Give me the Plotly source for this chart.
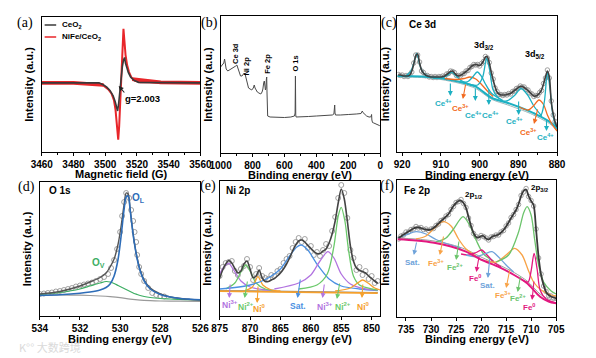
import plotly.graph_objects as go

W, H = 596, 358
FONT = "Liberation Sans, Arial, sans-serif"

# ---------------- (a) EPR ----------------
epr_field_nife = [3460, 3495, 3498, 3500, 3502, 3504, 3505.5, 3506.5, 3507.4, 3508.2, 3508.8, 3509.4,
                  3510, 3510.6, 3511.1, 3511.5, 3512.1, 3512.8, 3513.8, 3515, 3516.5, 3518.5, 3522, 3560]
epr_nife = [0, 0, -0.03, -0.07, -0.12, -0.2, -0.32, -0.5, -0.8, -1.05, -0.8, -0.4,
            0.05, 0.5, 0.85, 1.0, 0.78, 0.52, 0.33, 0.2, 0.1, 0.04, 0.01, 0]
# flat noisy baseline stretches of the NiFe/CeO2 spectrum (drawn as a broad band)
epr_noise_left_field = [3460, 3480, 3499]
epr_noise_left = [0, 0, -0.04]
epr_noise_right_field = [3517, 3535, 3560]
epr_noise_right = [0.07, 0.01, 0]
epr_field_ceo2 = [3460, 3496, 3499, 3501, 3503, 3505, 3506.3, 3507.2, 3507.8, 3508.4, 3509.2, 3510,
                  3510.8, 3511.6, 3512.2, 3512.8, 3513.6, 3514.6, 3516, 3518, 3521, 3560]
epr_ceo2 = [0, 0, -0.04, -0.08, -0.14, -0.24, -0.35, -0.46, -0.52, -0.4, -0.15, 0.08,
            0.3, 0.43, 0.47, 0.36, 0.27, 0.19, 0.11, 0.05, 0.01, 0]

# ---------------- (b) survey ----------------
survey_be = [1000, 990, 980, 975, 970, 965, 955, 945, 930, 918, 905, 898, 893, 885, 875, 866, 858, 852, 845,
             838, 830, 825, 815, 805, 795, 789, 784, 778, 770, 760, 748, 740, 735, 730, 726, 722, 719, 716,
             713, 711, 709, 707, 705, 690, 650, 600, 560, 545, 537, 533, 531, 529, 527, 500, 450, 400, 350,
             300, 290, 286, 285, 283, 280, 250, 220, 210, 200, 150, 120, 115, 112, 108, 100, 95, 85, 70, 60,
             56, 54, 52, 48, 40, 30, 20, 12, 5, 0]
survey_int = [86, 88, 90, 94, 86, 84, 82, 83, 84, 85, 87, 88, 86, 81, 77, 77, 79, 80, 78,
              74, 68, 65, 64, 63, 65, 68, 65, 63, 61, 60, 59, 61, 64, 70, 72, 67, 63, 65,
              74, 76, 60, 42, 37, 36, 35.5, 35.5, 36, 36.5, 37, 40, 77, 38, 36, 36, 36.5, 37, 37.5,
              38, 39, 44, 48, 40, 38, 38, 38.5, 39, 38.5, 39, 39.5, 41, 42, 40.5, 39.5, 38, 37, 36, 36,
              37, 38.5, 33, 30.5, 30, 29.5, 29, 28.5, 27.5, 27]
survey_labels = ["Ce 3d", "Ni 2p", "Fe 2p", "O 1s"]

# ---------------- (c) Ce 3d ----------------
c_be = [921, 920.5, 920, 919.5, 919, 918.5, 918, 917.5, 917, 916.5, 916, 915.5, 915, 914.5, 914, 913.5,
        913, 912.5, 912, 911.5, 911, 910.5, 910, 909.5, 909, 908.5, 908, 907.5, 907, 906.5, 906, 905.5,
        905, 904.5, 904, 903.5, 903, 902.5, 902, 901.5, 901, 900.5, 900, 899.5, 899, 898.5, 898, 897.5,
        897, 896.5, 896, 895.5, 895, 894.5, 894, 893.5, 893, 892.5, 892, 891.5, 891, 890.5, 890, 889.5,
        889, 888.5, 888, 887.5, 887, 886.5, 886, 885.5, 885, 884.5, 884, 883.5, 883, 882.5, 882, 881.5,
        881, 880.5, 880]
c_fit = [77, 77, 76.5, 76, 76, 76, 77, 81, 88, 96, 98, 89, 82, 79, 77, 76, 75.5, 75, 75, 75,
         75, 75, 75, 75.5, 76, 77.5, 79, 80.5, 81, 79, 77, 76, 76.5, 77.5, 79, 80.5, 82, 84, 86, 87,
         87.5, 87, 86.5, 88, 91, 95, 95, 89, 80, 72, 65, 60, 58, 57, 57, 57, 57.5, 58, 58.5, 60,
         61.5, 63, 64.5, 65.5, 65.5, 64.5, 63, 61.5, 59.5, 57.5, 56, 56, 57, 59, 62, 68, 75, 81, 75, 50,
         38, 30, 25]
c_raw = [77.5, 76.5, 77, 75.5, 76.5, 75.5, 77.5, 80, 89, 97, 97, 90, 81, 79.5, 76.5, 76.5, 75, 75.5, 74.5, 75.5,
         74.5, 75.5, 75, 76, 75.5, 78, 78.5, 81, 80.5, 79.5, 76.5, 76.5, 76, 78, 78.5, 81, 81.5, 84.5, 85.5, 87.5,
         87, 87.5, 86, 88.5, 90.5, 95.5, 94, 89.5, 79, 73, 64, 60.5, 57.5, 57.5, 56.5, 57.5, 57, 58.5, 58, 60.5,
         61, 63.5, 64, 66, 65, 65, 62.5, 62, 59, 58, 55.5, 56.5, 56.5, 59.5, 61.5, 68.5, 74, 82, 74, 51,
         37, 30.5, 24.5]
c_bg_be = [921.2, 915, 910, 905, 901, 896.8, 892.7, 886.9, 882, 880]
c_bg = [76, 75.5, 73.7, 70, 65.3, 54, 49, 40.3, 30.3, 24]
c_bg2 = [75, 74.5, 72.5, 68.5, 63.5, 52.5, 47, 38.5, 28.5, 22.5]
ce4_1_be = [921.2, 919, 917.8, 917, 916.2, 915.4, 914.5, 913, 911]
ce4_1 = [76, 76.5, 80.5, 88.5, 98.5, 86.5, 79, 75.5, 74]
ce4_2_be = [912, 909.5, 908.2, 907.2, 906.2, 904.8, 903]
ce4_2 = [74, 74.5, 77, 80, 76.5, 71.5, 68.5]
ce3_1_be = [909, 906, 904, 902.5, 901, 899.5, 898, 896.5]
ce3_1 = [73.5, 72.5, 73.5, 75, 73, 67.5, 61, 55.5]
ce4_3_be = [905, 903, 901.8, 900.6, 899.5, 898.5, 897, 895]
ce4_3 = [70, 70.5, 75, 80, 75.5, 68, 59, 53.5]
ce4_4_be = [903, 900.5, 899.2, 898.2, 897.4, 896.6, 895.5, 894]
ce4_4 = [68, 67, 75, 93.5, 82, 63, 55.5, 51.5]
ce4_5_be = [896, 893, 891, 889.3, 887.6, 886, 884]
ce4_5 = [53, 51, 56.5, 63.5, 57, 46, 36]
ce3_2_be = [890, 887.5, 886, 884.7, 883.5, 882.5, 881.2, 880]
ce3_2 = [45.5, 42, 46.5, 52, 47.5, 37, 27, 21]
ce4_6_be = [886, 884.3, 883.3, 882.5, 881.8, 881.2, 880.5, 880]
ce4_6 = [39, 36, 50, 80, 62, 40, 28, 23]

# ---------------- (d) O 1s ----------------
o_raw_be = [534.0, 533.8, 533.6, 533.4, 533.2, 533.0, 532.8, 532.6, 532.4, 532.2, 532.0, 531.8, 531.6,
            531.4, 531.2, 531.0, 530.8, 530.6, 530.45, 530.3, 530.15, 530.0, 529.9, 529.8, 529.7, 529.55,
            529.45, 529.35, 529.28, 529.2, 529.15, 529.05, 528.95, 528.8, 528.6, 528.4, 528.2, 528.0, 527.8]
o_raw = [22, 22.5, 23, 23.5, 24.5, 25, 26, 27, 28, 29.5, 30.5, 31.5, 32.5,
         33.5, 35, 37, 39, 42, 48, 56, 67, 84, 100, 114, 123, 118,
         106, 95, 84, 74, 61, 49, 42, 35, 28, 23, 21, 20, 19.5]
o_fit_be = [534, 533, 532, 531.5, 531, 530.7, 530.5, 530.3, 530.1, 529.95, 529.8, 529.7, 529.6,
            529.5, 529.4, 529.3, 529.15, 529.0, 528.8, 528.5, 528.0, 527.5, 527.0, 526.5, 526]
o_fit = [22, 24.5, 30, 34, 38.5, 43, 49, 57, 72, 90, 112, 123, 122,
         107, 90, 75, 58, 46, 36, 28, 22, 19, 17.5, 16.5, 16]
o_lattice = [20.5, 21.3, 22.8, 24, 26, 28.5, 32, 40, 57, 80, 107, 119, 120,
             106, 89, 74, 57, 45, 35, 27, 21.5, 19, 17.5, 16.8, 16.3]
o_vacancy = [21.5, 23.5, 27, 30, 33, 34.5, 34, 32.5, 30.5, 29, 27.5, 26.5, 25.5,
             24.5, 23.5, 22.5, 21.5, 20.5, 19.5, 18.5, 17.5, 17, 16.5, 16.3, 16]
o_bg_be = [534, 533, 532, 531.5, 531, 530.5, 530, 529.5, 529, 528.5, 528, 527, 526]
o_bg = [21, 21, 20.8, 20.5, 20, 19.3, 18.3, 16.8, 15.8, 15.3, 15, 14.8, 14.7]

# ---------------- (e) Ni 2p ----------------
e_be = [875, 874.5, 874, 873.5, 873, 872.5, 872, 871.5, 871, 870.5, 870, 869.5, 869, 868.5, 868, 867.5,
        867, 866.5, 866, 865.5, 865, 864.5, 864, 863.5, 863, 862.5, 862, 861.5, 861, 860.5, 860, 859.5,
        859, 858.5, 858, 857.5, 857, 856.5, 856, 855.5, 855, 854.5, 854, 853.5, 853, 852.5, 852, 851.5,
        851, 850.5, 850, 849.5, 849]
e_fit = [37.7, 46, 52, 55.5, 53, 47.5, 43, 45, 52, 55, 47, 38.5, 40, 46, 38, 34.5,
         34.5, 36, 37.5, 40, 43, 47, 52, 58, 65, 71, 75, 76, 74, 70.5, 67.5, 64.5,
         62.5, 62.5, 65, 67, 73, 82, 95, 113, 127, 117, 95, 70, 55, 48, 45.5, 44.5,
         43, 40, 37.5, 35, 32.7]
e_raw = [40, 49, 53, 54, 55, 45, 41, 47, 50, 57, 49, 36, 42, 48, 40, 38,
         37, 41, 40, 45, 47, 53, 57, 60, 68, 74, 78, 74, 77, 68, 70, 61,
         64, 60, 66, 72, 70, 85, 99, 118, 131, 123, 98, 66, 58, 46, 49, 41,
         45, 37, 40, 33, 35]
e_bg_be = [875, 849]
e_bg_gray = [25.5, 23.5]
e_bg_orange = [24.8, 22.8]
ni3_a_be = [875, 874.3, 873.5, 872.7, 871.5, 870, 868, 866]
ni3_a = [42, 49, 52.7, 46, 35, 29, 26.5, 25.5]
ni2_a_be = [874, 872.5, 871.5, 870.7, 869.9, 869, 867.5, 866]
ni2_a = [27, 33, 44, 51, 44, 33, 27, 25.5]
ni0_a_be = [871, 869.6, 868.7, 867.9, 866.5, 865]
ni0_a = [25, 29, 39.3, 31, 26, 25]
sat_e_be = [875, 870, 867, 865, 863.5, 862.3, 861.6, 860.5, 859, 857, 855, 852, 849]
sat_e = [27, 31, 38, 47, 60, 69, 71, 66, 52, 37, 30, 27, 25.5]
ni3_b_be = [866, 862, 860, 858.5, 857.2, 856.2, 855, 853.5, 851, 849]
ni3_b = [27, 33, 41, 55, 64.3, 58, 42, 32, 27, 26]
ni2_b_be = [862, 859, 857.3, 856.2, 855.5, 855, 854.4, 853.8, 853, 852, 850, 849]
ni2_b = [27, 31, 42, 70, 100, 108.7, 95, 66, 40, 31, 27, 26]
ni0_b_be = [856, 853.5, 852.3, 851.5, 850.6, 849.5, 848.6]
ni0_b = [25, 28, 33, 36, 33, 28, 26]

# ---------------- (f) Fe 2p ----------------
f_be = [736.5, 736, 735.5, 735, 734.5, 734, 733.5, 733, 732.5, 732, 731.5, 731, 730.5, 730, 729.5, 729,
        728.5, 728, 727.5, 727, 726.5, 726, 725.5, 725, 724.5, 724, 723.5, 723, 722.5, 722, 721.5, 721,
        720.5, 720, 719.5, 719, 718.5, 718, 717.5, 717, 716.5, 716, 715.5, 715, 714.5, 714, 713.5, 713,
        712.5, 712, 711.5, 711, 710.5, 710, 709.5, 709, 708.5, 708, 707.5, 707, 706.5, 706, 705.5, 705]
f_fit = [79, 80.5, 82.5, 84, 85.5, 87, 88.5, 89.5, 89.5, 89, 88, 87.5, 87, 87.5, 89, 91,
         93.5, 96, 98, 100.5, 103, 107, 111, 114, 116, 116.5, 114, 109, 100, 91, 84, 80,
         79.5, 81, 81, 78.5, 77.5, 79.5, 81, 81.5, 82.5, 84.5, 87, 90.5, 94.5, 99, 103, 107,
         113, 121, 126, 127.5, 121, 116, 112, 87, 60, 42, 32, 25, 22, 20.5, 19.5, 18.7]
f_raw = [78, 81, 82, 85, 85, 87.5, 88, 90.5, 89, 89.5, 87.5, 88, 86.5, 88, 88.5, 91.5,
         93, 96.5, 97.5, 101, 102.5, 107.5, 110.5, 114.5, 115.5, 117.5, 113.5, 109.5, 99, 91.5, 83.5, 80.5,
         79, 81.5, 80.5, 79, 77, 80, 80.5, 82, 82, 85, 86.5, 91, 94, 99.5, 102.5, 107.5,
         112.5, 121.5, 125, 128.5, 120.5, 116.5, 111, 88, 59, 43, 31, 25.5, 21.5, 21, 19, 19]
f_bg_be = [736.7, 733, 729.4, 726, 723, 719.8, 716.6, 713.4, 710.8, 708.2, 706.5, 705]
f_bg = [77.7, 76.5, 74.3, 70.5, 65.3, 57, 50.3, 42, 33.7, 20.3, 15.5, 13.7]
f_bg2 = [79, 78, 76, 72.5, 67.5, 59.5, 52.5, 44.5, 36, 23, 18, 16.5]
sat_f1_be = [736.7, 735, 733, 731, 729, 727, 724]
sat_f1 = [79, 82, 85.3, 83, 77.5, 73.5, 69]
fe3_a_be = [733, 731, 729.5, 727.6, 726, 724.5, 723, 721]
fe3_a = [78, 81, 88, 95.3, 91, 78, 68, 61]
fe2_a_be = [729, 727, 725.5, 723.6, 722.3, 721, 719.5, 717.5]
fe2_a = [75, 79, 88, 100.3, 92, 77, 63, 56]
fe0_a_be = [724, 722.5, 721, 719.9, 718.8, 717.5, 716]
fe0_a = [63, 62, 64.5, 67, 62, 55, 50]
sat_f2_be = [723, 721, 719.3, 717.8, 716.5, 715, 713.5]
sat_f2 = [62, 60.5, 63, 65.3, 60, 52, 45]
fe3_b_be = [719, 717, 715, 713.3, 711.8, 710.5, 709.5, 708, 706, 705]
fe3_b = [56, 55, 62, 68.7, 62, 46, 35, 27, 22, 21]
fe2_b_be = [717, 714.5, 712.5, 711.5, 710.8, 710, 709.3, 708.5, 707.5, 706, 705]
fe2_b = [55, 62, 85, 104, 110.3, 102, 78, 52, 35, 26, 23]
fe0_b_be = [712, 710.6, 710, 709.4, 708.8, 708.2, 707, 705]
fe0_b = [38, 35, 46, 63.7, 48, 27, 18, 14]

# ---------------- colours ----------------
CYAN = "#1DB0C2"
ORANGE_C = "#F26B21"
BLUE_D = "#2E6DB8"
GREEN_D = "#3DAE63"
PURPLE_E = "#B274E0"
GREEN_E = "#6BC96B"
ORANGE_E = "#F5A02C"
BLUE_E = "#4A90E2"
BLUE_F = "#6FA3DA"
ORANGE_F = "#F8A347"
GREEN_F = "#6CC46C"
MAGENTA_F = "#E2187F"
FIT = "#3f3f3f"
RAW = "#8a8a8a"
RED = "#E8262A"

fig = go.Figure()


def line(x, y, ax, color, width=1.3, shape="spline"):
    fig.add_trace(go.Scatter(x=x, y=y, mode="lines", xaxis="x" + ax, yaxis="y" + ax,
                             line=dict(color=color, width=width, shape=shape, smoothing=0.8),
                             showlegend=False, hoverinfo="skip"))


def circles(x, y, ax, size=4.5):
    fig.add_trace(go.Scatter(x=x, y=y, mode="markers", xaxis="x" + ax, yaxis="y" + ax,
                             marker=dict(symbol="circle-open", size=size, color=RAW, line=dict(width=0.8)),
                             showlegend=False, hoverinfo="skip"))


# (a)
line(epr_noise_left_field, epr_noise_left, "", RED, 3.6, "linear")
line(epr_noise_right_field, epr_noise_right, "", RED, 3.6, "linear")
line(epr_field_nife, epr_nife, "", RED, 2.0, "linear")
line(epr_field_ceo2, epr_ceo2, "", "#3a3a3a", 1.6, "linear")
# (b)
line(survey_be, survey_int, "2", "#4a4a4a", 1.0, "linear")
# (c)
circles(c_be, c_raw, "3", 4.5)
line(c_bg_be, c_bg2, "3", "#9fb8bb", 1.0)
line(c_bg_be, c_bg, "3", CYAN, 2.0)
for xb, yb, col in [(ce4_1_be, ce4_1, CYAN), (ce4_2_be, ce4_2, CYAN), (ce3_1_be, ce3_1, ORANGE_C),
                    (ce4_3_be, ce4_3, CYAN), (ce4_4_be, ce4_4, CYAN), (ce4_5_be, ce4_5, CYAN),
                    (ce3_2_be, ce3_2, ORANGE_C), (ce4_6_be, ce4_6, CYAN)]:
    line(xb, yb, "3", col, 1.3)
line(c_be, c_fit, "3", FIT, 1.6)
# (d)
circles(o_raw_be, o_raw, "4", 5)
line(o_bg_be, o_bg, "4", "#9a9a9a", 1.2)
line(o_fit_be, o_vacancy, "4", GREEN_D, 1.2)
line(o_fit_be, o_fit, "4", "#555555", 1.4)
line(o_fit_be, o_lattice, "4", BLUE_D, 1.6)
# (e)
circles(e_be, e_raw, "5", 5)
line(e_bg_be, e_bg_gray, "5", "#8c8c8c", 1.2, "linear")
line(e_bg_be, e_bg_orange, "5", ORANGE_E, 1.8, "linear")
for xb, yb, col in [(ni3_a_be, ni3_a, PURPLE_E), (ni2_a_be, ni2_a, GREEN_E), (ni0_a_be, ni0_a, ORANGE_E),
                    (sat_e_be, sat_e, BLUE_E), (ni3_b_be, ni3_b, PURPLE_E), (ni2_b_be, ni2_b, GREEN_E),
                    (ni0_b_be, ni0_b, ORANGE_E)]:
    line(xb, yb, "5", col, 1.3)
line(e_be, e_fit, "5", "#444444", 1.6)
# (f)
circles(f_be, f_raw, "6", 4.5)
line(f_bg_be, f_bg2, "6", "#a0a0a0", 1.0)
for xb, yb, col in [(sat_f1_be, sat_f1, BLUE_F), (fe3_a_be, fe3_a, ORANGE_F), (fe2_a_be, fe2_a, GREEN_F),
                    (fe0_a_be, fe0_a, MAGENTA_F), (sat_f2_be, sat_f2, BLUE_F), (fe3_b_be, fe3_b, ORANGE_F),
                    (fe2_b_be, fe2_b, GREEN_F), (fe0_b_be, fe0_b, MAGENTA_F)]:
    line(xb, yb, "6", col, 1.3)
line(f_bg_be, f_bg, "6", MAGENTA_F, 2.0)
line(f_be, f_fit, "6", "#3a3a3a", 1.8)

# ---------------- axes ----------------
panels = {
    "": dict(x=(32, 197), y=(17, 152), xr=[3460, 3560], yr=[-1.28, 1.22], dt=20, mdt=10, title="Magnetic field (G)", ty=174),
    "2": dict(x=(218, 384), y=(16, 153), xr=[1000, 0], yr=[0, 137], dt=200, mdt=100, title="Binding energy (eV)", ty=175),
    "3": dict(x=(402, 568), y=(16, 152), xr=[921.2, 880], yr=[0, 136], dt=10, mdt=5, title="Binding energy (eV)", ty=175),
    "4": dict(x=(30, 197), y=(182, 316), xr=[534, 526], yr=[0, 134], dt=2, mdt=1, title="Binding energy (eV)", ty=339),
    "5": dict(x=(217, 384), y=(181, 316), xr=[875, 848.6], yr=[0, 135], dt=5, mdt=None, title="Binding energy (eV)", ty=339),
    "6": dict(x=(402, 567), y=(180, 317), xr=[736.7, 705], yr=[0, 137], dt=5, mdt=None, title="Binding energy (eV)", ty=339),
}
lay = {}
for k, p in panels.items():
    xa = dict(domain=[p["x"][0] / W, p["x"][1] / W], range=p["xr"], dtick=p["dt"], anchor="y" + k,
              showline=True, mirror=True, linecolor="black", linewidth=1.2, ticks="outside", ticklen=3,
              tickwidth=1.1, tickcolor="black", showgrid=False, zeroline=False,
              tickfont=dict(family=FONT, size=10, color="black", weight="bold"))
    if p["mdt"]:
        xa["minor"] = dict(dtick=p["mdt"], ticks="outside", ticklen=2, tickcolor="black", showgrid=False)
    ya = dict(domain=[1 - p["y"][1] / H, 1 - p["y"][0] / H], range=p["yr"], anchor="x" + k,
              showline=True, mirror=True, linecolor="black", linewidth=1.2, ticks="", showticklabels=False,
              showgrid=False, zeroline=False,
              title=dict(text="Intensity (a.u.)", standoff=4, font=dict(family=FONT, size=11, color="black", weight="bold")))
    lay["xaxis" + k] = xa
    lay["yaxis" + k] = ya

ann = []


def P(x, y):
    return x / W, 1 - y / H


def text(t, x, y, color="black", size=9, xanchor="center", family=FONT, bold=True, angle=0):
    px_, py_ = P(x, y)
    ann.append(dict(text=t, x=px_, y=py_, xref="paper", yref="paper", showarrow=False, xanchor=xanchor,
                    yanchor="middle", textangle=angle,
                    font=dict(family=family, size=size, color=color, weight="bold" if bold else "normal")))


def arrow(x0, y0, x1, y1, color):
    hx, hy = P(x1, y1)
    ann.append(dict(text="", x=hx, y=hy, xref="paper", yref="paper", ax=x0 - x1, ay=y0 - y1,
                    axref="pixel", ayref="pixel", showarrow=True, arrowhead=2, arrowsize=0.9,
                    arrowwidth=1.1, arrowcolor=color))


# x-axis titles
for k, p in panels.items():
    text(p["title"], (p["x"][0] + p["x"][1]) / 2, p["ty"], size=11)

SERIF = "Liberation Serif, Times New Roman, serif"
for lab, x, y in [("(a)", 15, 23), ("(b)", 206, 23), ("(c)", 393, 23), ("(d)", 16, 187), ("(e)", 205, 186), ("(f)", 391, 186)]:
    text(lab, x, y, size=14, family=SERIF, bold=False)

# (a) legend + annotation
text("CeO<sub>2</sub>", 51, 25, size=8, xanchor="left")
text("NiFe/CeO<sub>2</sub>", 51, 37, size=8, xanchor="left")
text("g=2.003", 117, 98, size=9.5, xanchor="left")
arrow(119, 94, 112, 86, "#222222")

# (b) peak labels
for t, x, y in [(survey_labels[0], 234, 53), (survey_labels[1], 245, 66), (survey_labels[2], 266, 64), (survey_labels[3], 295, 64)]:
    text(t, x, y, size=7.5, angle=-90)

# (c)
text("Ce 3d", 412, 25, size=10, xanchor="left")
text("3d<sub>3/2</sub>", 492, 45, size=9)
text("3d<sub>5/2</sub>", 545, 54, size=9)
for t, col, lx, ly, a0, a1 in [
    ("Ce<sup>4+</sup>", CYAN, 450, 103, (457, 82), (457, 96)),
    ("Ce<sup>3+</sup>", ORANGE_C, 468, 108, (473, 83), (470, 99)),
    ("Ce<sup>4+</sup>", CYAN, 481, 115, (483, 87), (483, 101)),
    ("Ce<sup>4+</sup>", CYAN, 499, 115, (497, 88), (497, 105)),
    ("Ce<sup>4+</sup>", CYAN, 524, 121, (528, 100), (528, 115)),
    ("Ce<sup>3+</sup>", ORANGE_C, 538, 132, (548, 108), (544, 124)),
    ("Ce<sup>4+</sup>", CYAN, 556, 137, (557, 118), (557, 131)),
]:
    text(t, lx, ly, color=col, size=8)
    arrow(a0[0], a0[1], a1[0], a1[1], col)

# (d)
text("O 1s", 37, 190, size=10, xanchor="left")
text("O<sub>L</sub>", 133, 198, color=BLUE_D, size=10)
text("O<sub>V</sub>", 91, 263, color=GREEN_D, size=10)

# (e)
text("Ni 2p", 222, 190, size=10, xanchor="left")
for t, col, lx, ly, a0, a1 in [
    ("Ni<sup>3+</sup>", PURPLE_E, 228, 304, (228, 283), (227, 298)),
    ("Ni<sup>2+</sup>", GREEN_E, 244, 306, (246, 280), (243, 298)),
    ("Ni<sup>0</sup>", ORANGE_E, 258, 308, (257, 285), (256, 303)),
    ("Sat.", BLUE_E, 298, 306, (301, 278), (298, 298)),
    ("Ni<sup>3+</sup>", PURPLE_E, 327, 306, (326, 283), (324, 298)),
    ("Ni<sup>2+</sup>", GREEN_E, 345, 306, (342, 282), (339, 299)),
    ("Ni<sup>0</sup>", ORANGE_E, 367, 306, (366, 283), (365, 298)),
]:
    text(t, lx, ly, color=col, size=8.5)
    arrow(a0[0], a0[1], a1[0], a1[1], col)

# (f)
text("Fe 2p", 407, 190, size=10, xanchor="left")
text("2p<sub>1/2</sub>", 481, 195, size=8)
text("2p<sub>3/2</sub>", 550, 188, size=8)
for t, col, lx, ly, a0, a1 in [
    ("Sat.", BLUE_F, 418, 262, (422, 241), (419, 255)),
    ("Fe<sup>3+</sup>", ORANGE_F, 442, 263, (450, 235), (446, 255)),
    ("Fe<sup>2+</sup>", GREEN_F, 462, 267, (466, 240), (463, 260)),
    ("Fe<sup>0</sup>", MAGENTA_F, 483, 278, (487, 255), (484, 272)),
    ("Sat.", BLUE_F, 496, 285, (498, 257), (496, 278)),
    ("Fe<sup>3+</sup>", ORANGE_F, 512, 295, (519, 268), (515, 288)),
    ("Fe<sup>2+</sup>", GREEN_F, 527, 298, (530, 275), (527, 292)),
    ("Fe<sup>0</sup>", MAGENTA_F, 539, 307, (544, 280), (542, 300)),
]:
    text(t, lx, ly, color=col, size=8)
    arrow(a0[0], a0[1], a1[0], a1[1], col)

# watermark
text("K°° 大数跨境", 6, 347, color="#dadada", size=11, xanchor="left",
     family="Noto Sans CJK SC, sans-serif", bold=False)

shapes = [
    dict(type="line", xref="paper", yref="paper", x0=35 / W, x1=47 / W, y0=1 - 25 / H, y1=1 - 25 / H,
         line=dict(color="#3a3a3a", width=1.5)),
    dict(type="line", xref="paper", yref="paper", x0=35 / W, x1=47 / W, y0=1 - 37 / H, y1=1 - 37 / H,
         line=dict(color=RED, width=1.5)),
]

fig.update_layout(width=W, height=H, margin=dict(l=0, r=0, t=0, b=0), paper_bgcolor="white",
                  plot_bgcolor="white", annotations=ann, shapes=shapes, showlegend=False,
                  font=dict(family=FONT), **lay)
fig.write_html("out.html", config={"displayModeBar": False},
               post_script="document.body.style.margin='0px';")
